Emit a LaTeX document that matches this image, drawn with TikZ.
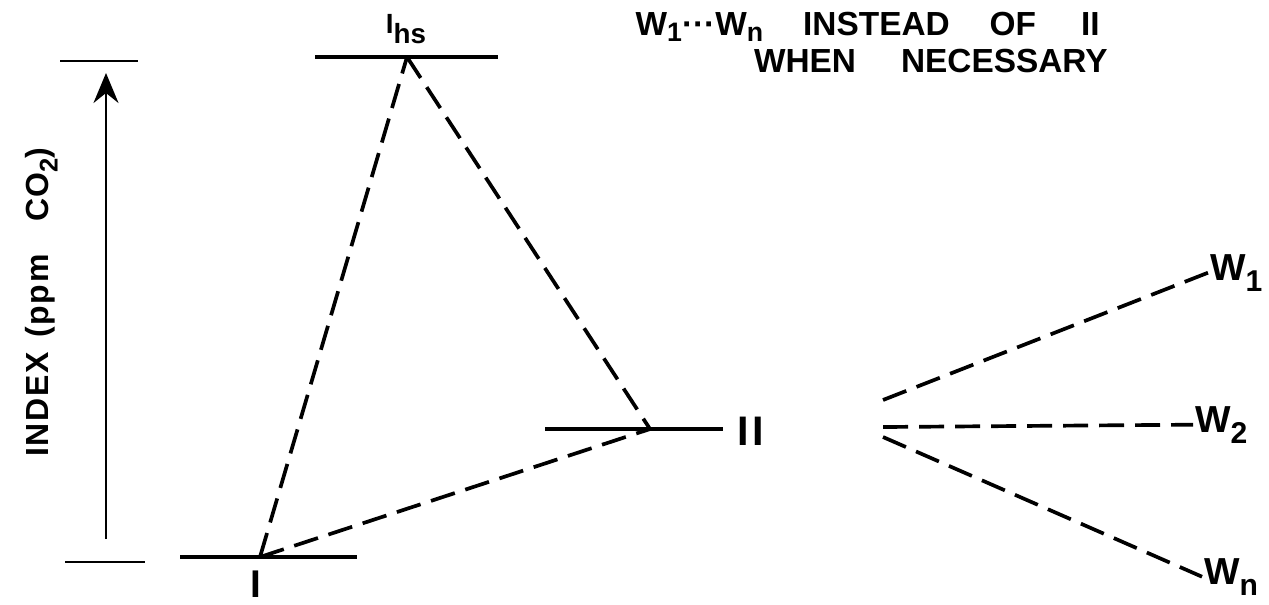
\documentclass[tikz,border=0pt]{standalone}
\usepackage{fontspec}
\setmainfont{Liberation Sans}
\usetikzlibrary{arrows.meta}
\newcommand{\lsub}[1]{\raisebox{-0.3em}{\scalebox{0.8}{#1}}}
\newcommand{\tsub}[1]{\raisebox{-0.18em}{\scalebox{0.8}{#1}}}

\begin{document}
\begin{tikzpicture}[
    >={Stealth[length=0.6cm,width=0.5cm,inset=0.2cm]},
    level/.style={line width=2.4pt},
    tick/.style={line width=1.4pt},
    jump/.style={line width=2.1pt, dash pattern=on 0.5cm off 0.22cm},
    lbl/.style={font=\bfseries\fontsize{21.4}{24}\selectfont, inner sep=1pt},
    note/.style={font=\bfseries\fontsize{19}{20}\selectfont, inner sep=0pt}
]
\useasboundingbox (0,0) rectangle (25.38,12.08);

% =====================
% ASSE
% =====================
\draw[tick] (1.2,10.86) -- (2.76,10.86);
\draw[tick] (1.3,0.84) -- (2.9,0.84);
\coordinate (axbot) at (2.12,1.3);
\coordinate (axtop) at (2.12,10.62);
\draw[tick, ->] (axbot) -- (axtop);
\node[lbl, rotate=90, anchor=base, font=\bfseries\fontsize{18.2}{22}\selectfont\addfontfeature{LetterSpace=5}] (axlab) at (0.96,6.04)
    {INDEX\hspace{0.3cm}(ppm\hspace{0.65cm}CO\lsub{2})};

% =====================
% LIVELLI
% =====================
\coordinate (I) at (5.2,0.94);
\coordinate (Ihs) at (8.14,10.94);
\coordinate (II) at (13.0,3.5);

\draw[level] (3.6,0.94) -- (7.14,0.94);
\draw[level] (6.3,10.94) -- (9.96,10.94);
\draw[level] (10.9,3.5) -- (14.46,3.5);

\node[lbl, anchor=base, font=\bfseries\fontsize{22}{24}\selectfont] (Ilab) at (5.12,0.14) {I};
\node[lbl, font=\bfseries\fontsize{15.8}{20}\selectfont] (Ihslab) at (8.12,11.5) {I\raisebox{-0.38em}{hs}};
\node[lbl, anchor=base west, font=\bfseries\fontsize{23.5}{24}\selectfont] (IIlab) at (14.7,3.18) {I\hspace{0.08cm}I};

% I -> Ihs -> II
\draw[jump] (I) -- (Ihs);
\draw[jump] (Ihs) -- (II);
\draw[jump] (I) -- (II);

% =====================
% VENTAGLIO W
% =====================
\coordinate (w1s) at (17.66,4.08);
\coordinate (w2s) at (17.66,3.54);
\coordinate (wns) at (17.66,3.34);

\node[lbl, anchor=base west] (W1) at (24.16,6.48) {W\lsub{1}};
\node[lbl, anchor=base west] (W2) at (23.86,3.44) {W\lsub{2}};
\node[lbl, anchor=base west] (Wn) at (24.04,0.4) {W\lsub{n}};

\draw[jump] (w1s) -- (W1.west);
\draw[jump] (w2s) -- (W2.west);
\draw[jump] (wns) -- (Wn.west);

% nota
\node[note, anchor=base east] (note1) at (22.0,11.38)
    {W\tsub{1}···W\tsub{n}\hspace{0.8cm}INSTEAD\hspace{0.8cm}OF\hspace{0.9cm}II};
\node[note, anchor=base east] (note2) at (22.16,10.64) {WHEN\hspace{0.9cm}NECESSARY};

\end{tikzpicture}
\end{document}
